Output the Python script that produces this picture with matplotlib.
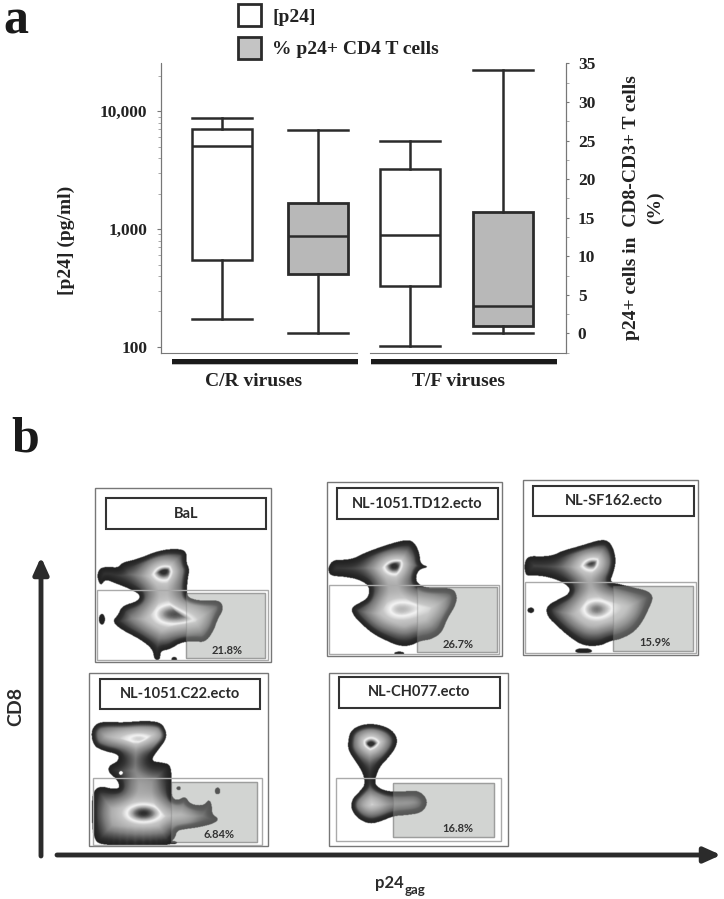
import numpy as np
import matplotlib
matplotlib.use('Agg')
import matplotlib.pyplot as plt
from matplotlib.colors import LinearSegmentedColormap
from matplotlib.patches import Rectangle
from matplotlib.path import Path
from matplotlib.ticker import FixedLocator, NullFormatter

W, H = 724, 899

# panel a data
p24_boxes = [
    {'whislo': 173, 'q1': 549, 'med': 5040, 'q3': 7030, 'whishi': 8790, 'fliers': []},
    {'whislo': 101, 'q1': 326, 'med': 891, 'q3': 3260, 'whishi': 5600, 'fliers': []},
]
pct_boxes = [
    {'whislo': 0, 'q1': 7.65, 'med': 12.6, 'q3': 16.9, 'whishi': 26.4, 'fliers': []},
    {'whislo': 0, 'q1': 1.0, 'med': 3.5, 'q3': 15.7, 'whishi': 34.1, 'fliers': []},
]
left_ticks = [100, 1000, 10000]
left_labels = ['100', '1,000', '10,000']
right_ticks = [0, 5, 10, 15, 20, 25, 30, 35]
groups = ['C/R viruses', 'T/F viruses']

# panel b: outlines traced on 3x crops, peaks are (x, y, sx, sy, height), dots are (x, y, rx, ry)
bal_outline = [(52, 310), (62, 295), (85, 293), (115, 295), (125, 280), (170, 270), (240, 242), (300, 238),
               (320, 250), (318, 280), (328, 300), (322, 330), (320, 362), (322, 385), (360, 395), (420, 392),
               (430, 420), (412, 450), (400, 485), (375, 520), (340, 515), (300, 520), (270, 540), (240, 545),
               (240, 572), (222, 572), (218, 540), (180, 510), (130, 485), (95, 458), (115, 435), (125, 410),
               (175, 395), (180, 375), (140, 355), (100, 340), (75, 330), (62, 350), (52, 330)]
bal_peaks = [(250, 305, 44, 34, .58), (265, 435, 68, 46, .53), (350, 435, 40, 40, .2)]
bal_dots = [(65, 450, 9, 16), (282, 570, 8, 7)]

td12_outline = [(25, 290), (40, 272), (70, 272), (100, 268), (135, 250), (190, 230), (250, 212), (280, 215),
                (298, 250), (300, 285), (328, 293), (295, 300), (285, 330), (300, 350), (335, 358), (395, 355),
                (412, 380), (405, 410), (380, 450), (365, 490), (335, 510), (300, 515), (270, 530), (235, 530),
                (200, 515), (160, 495), (130, 470), (100, 440), (92, 415), (120, 400), (145, 385), (148, 350),
                (115, 330), (70, 322), (35, 320), (25, 310)]
td12_peaks = [(222, 290, 42, 32, .58), (240, 420, 70, 44, .5), (340, 410, 38, 32, .2)]
td12_dots = [(237, 553, 15, 6)]

sf162_outline = [(612, 280), (625, 260), (665, 262), (700, 258), (725, 245), (780, 230), (850, 208), (875, 225),
                 (888, 270), (880, 310), (868, 338), (900, 345), (940, 355), (985, 365), (1000, 385), (985, 420),
                 (965, 460), (940, 490), (900, 510), (870, 515), (840, 530), (790, 530), (750, 505), (710, 470),
                 (680, 440), (678, 410), (715, 390), (745, 375), (750, 355), (720, 335), (680, 322), (640, 318),
                 (615, 320)]
sf162_peaks = [(812, 280, 42, 32, .57), (828, 420, 62, 44, .54), (920, 410, 32, 28, .15)]
sf162_dots = [(632, 423, 10, 8), (790, 545, 25, 8)]

c22_outline = [(32, 205), (45, 180), (70, 172), (130, 175), (180, 170), (240, 172), (258, 200), (258, 225),
               (235, 255), (210, 290), (245, 295), (270, 300), (275, 340), (272, 395), (290, 410), (315, 395),
               (330, 420), (370, 425), (385, 405), (395, 420), (395, 450), (418, 465), (395, 480), (350, 490),
               (310, 495), (290, 500), (285, 520), (275, 530), (270, 545), (60, 545), (40, 520), (35, 470),
               (35, 410), (40, 380), (60, 365), (100, 375), (120, 370), (110, 345), (85, 325), (85, 305),
               (115, 290), (115, 270), (70, 260), (40, 245)]
c22_peaks = [(170, 213, 90, 28, .58), (190, 447, 72, 38, .58), (315, 460, 30, 24, .2), (170, 360, 45, 22, .12)]
c22_dots = [(295, 372, 6, 6), (412, 380, 8, 10), (275, 535, 15, 5)]
c22_holes = [(122, 326, 6, 6)]

ch077_outline = [(803, 235), (810, 200), (840, 182), (880, 178), (925, 190), (950, 215), (950, 245), (925, 280),
                 (900, 305), (885, 340), (885, 365), (920, 382), (970, 382), (1010, 378), (1035, 395), (1042, 420),
                 (1025, 445), (985, 452), (940, 455), (905, 470), (870, 480), (835, 465), (812, 435), (815, 405),
                 (840, 380), (855, 360), (848, 325), (825, 290), (805, 260)]
ch077_peaks = [(873, 232, 38, 32, .62), (875, 415, 44, 30, .45), (985, 415, 32, 22, .16)]

names = ['BaL', 'NL-1051.TD12.ecto', 'NL-SF162.ecto', 'NL-1051.C22.ecto', 'NL-CH077.ecto']
percents = ['21.8%', '26.7%', '15.9%', '6.84%', '16.8%']
outlines = [bal_outline, td12_outline, sf162_outline, c22_outline, ch077_outline]
peaks = [bal_peaks, td12_peaks, sf162_peaks, c22_peaks, ch077_peaks]
dots = [bal_dots, td12_dots, sf162_dots, c22_dots, []]
holes = [[], [], [], c22_holes, []]
crop_origin = [(80, 470), (320, 470), (320, 470), (80, 665), (80, 665)]

# layout in page pixels, left/right/top/bottom
frames = [(95, 271, 488, 662), (327, 502, 482, 656), (523, 698, 480, 655),
          (89, 268, 673, 846), (329, 508, 673, 846)]
title_boxes = [(106, 266, 498, 529), (337, 498, 488, 519), (533, 694, 486, 516),
               (100, 260, 679, 709), (339, 500, 677, 708)]
gates = [(97, 268, 590, 660), (329, 499, 585, 654), (525, 696, 582, 653),
         (93, 262, 778, 845), (336, 501, 778, 841)]
grays = [(186, 265, 593, 658), (417, 497, 587, 652), (613, 693, 586, 651),
         (171, 257, 782, 842), (393, 494, 783, 837)]
pct_pos = [(227, 650), (458, 644), (655, 642), (219, 834), (458, 829)]

SERIF = 'Liberation Serif'
SANS = 'Lato'
DARK = '#2b2b2b'
TXT = '#222222'
FS = 14

fig = plt.figure(figsize=(W / 100, H / 100), dpi=100)

# whole page axes in pixels, everything that isn't the boxplot goes here
page = fig.add_axes([0, 0, 1, 1])
page.set_xlim(0, W)
page.set_ylim(H, 0)
page.axis('off')

# boxplot axes
L, R, T, B = 161, 566, 63.5, 352.7
ax = fig.add_axes([L / W, 1 - B / H, (R - L) / W, (B - T) / H], facecolor='none')
ax.set_xlim(L, R)
ax.set_yscale('log')
ax.set_ylim(89.4, 25400)
ax2 = ax.twinx()
ax2.set_ylim(-2.5, 34.9)
ax2.set_facecolor('none')

box_style = dict(
    patch_artist=True, widths=60, capwidths=60, showfliers=False, manage_ticks=False,
    medianprops=dict(color=DARK, lw=1.8), whiskerprops=dict(color=DARK, lw=1.8),
    capprops=dict(color=DARK, lw=1.8),
)
ax.bxp(p24_boxes, positions=[222, 410], boxprops=dict(facecolor='white', edgecolor=DARK, lw=1.8), **box_style)
ax2.bxp(pct_boxes, positions=[318, 503], boxprops=dict(facecolor='#b8b8b8', edgecolor=DARK, lw=2), **box_style)

for a in (ax, ax2):
    a.spines['top'].set_visible(False)
    a.spines['bottom'].set_visible(False)
    a.spines['left'].set_color('#777777')
    a.spines['right'].set_color('#777777')
    a.spines['left'].set_linewidth(0.8)
    a.spines['right'].set_linewidth(0.8)
ax.set_xticks([])
ax.yaxis.set_major_locator(FixedLocator(left_ticks))
ax.set_yticklabels(left_labels, fontfamily=SERIF, fontweight='bold', fontsize=12.5, color=TXT)
ax.yaxis.set_minor_locator(FixedLocator([m * 10 ** e for e in (2, 3, 4) for m in range(2, 10)]))
ax.yaxis.set_minor_formatter(NullFormatter())
ax.tick_params(axis='y', which='major', length=3, color='#777777', pad=7)
ax.tick_params(axis='y', which='minor', length=2, color='#999999')

ax2.set_yticks(right_ticks)
ax2.set_yticklabels(right_ticks, fontfamily=SERIF, fontweight='bold', fontsize=12.5, color=TXT)
ax2.set_yticks(np.arange(-2.5, 35, 2.5), minor=True)
ax2.tick_params(axis='y', which='major', length=2.5, color='#777777', pad=6)
ax2.tick_params(axis='y', which='minor', length=2, color='#999999')

# broken baseline and the thick group bars
page.plot([161, 357], [353, 353], color='#777777', lw=0.8)
page.plot([370, 566], [353, 353], color='#777777', lw=0.8)
for (x0, x1), name, xc in zip([(172, 358), (371, 557)], groups, [254, 459]):
    page.add_patch(Rectangle((x0, 363), x1 - x0, 2, color='#bbbbbb', lw=0))
    page.add_patch(Rectangle((x0, 359), x1 - x0, 4.5, color='#1a1a1a', lw=0))
    page.text(xc, 382, name, ha='center', va='center', family=SERIF, weight='bold', fontsize=FS, color=TXT)

page.text(66, 240, '[p24] (pg/ml)', rotation=90, ha='center', va='center', family=SERIF, weight='bold', fontsize=FS, color=TXT)
page.text(631, 208, 'p24+ cells in  CD8-CD3+ T cells', rotation=90, ha='center', va='center', family=SERIF, weight='bold', fontsize=FS, color=TXT)
page.text(655, 208, '(%)', rotation=90, ha='center', va='center', family=SERIF, weight='bold', fontsize=FS, color=TXT)

# legend
page.add_patch(Rectangle((238, 4), 23, 22, facecolor='white', edgecolor=DARK, lw=2))
page.add_patch(Rectangle((238, 37), 23, 22, facecolor='#c4c4c4', edgecolor=DARK, lw=2))
page.text(272, 17, '[p24]', va='center', family=SERIF, weight='bold', fontsize=FS, color=TXT)
page.text(272, 50, '% p24+ CD4 T cells', va='center', family=SERIF, weight='bold', fontsize=FS, color=TXT)

page.text(3, 22, 'a', va='center', family=SERIF, weight='bold', fontsize=36, color='#1a1a1a')
page.text(11, 439, 'b', va='center', family=SERIF, weight='bold', fontsize=36, color='#1a1a1a')

# density shading: dark rim, grey body, light ring, dark core
flow_cmap = LinearSegmentedColormap.from_list('flow', [
    (0.0, '#222222'), (0.15, '#333333'), (0.4, '#7c7c7c'), (0.62, '#a8a8a8'),
    (0.8, '#c6c6c6'), (0.88, '#f4f4f4'), (0.94, '#a8a8a8'), (1.0, '#2e2e2e')])


def smooth(pts, rounds=3):
    # corner cutting so the traced outlines don't look like polygons
    pts = np.array(pts, dtype=float)
    for _ in range(rounds):
        nxt = np.roll(pts, -1, axis=0)
        pts = np.column_stack([0.75 * pts + 0.25 * nxt, 0.25 * pts + 0.75 * nxt]).reshape(-1, 2)
    return pts


def draw_flow(i):
    x0, x1, y0, y1 = frames[i]
    ox, oy = crop_origin[i]
    outline = smooth(outlines[i]) / 3 + [ox, oy]
    xs = np.arange(x0 + 1, x1, 0.5)
    ys = np.arange(y0 + 1, y1, 0.5)
    gx, gy = np.meshgrid(xs, ys)
    inside = Path(outline).contains_points(np.column_stack([gx.ravel(), gy.ravel()])).reshape(gx.shape)
    dist = np.zeros_like(gx)
    for r in range(len(ys)):
        dist[r] = np.hypot(gx[r][:, None] - outline[:, 0], gy[r][:, None] - outline[:, 1]).min(axis=1)
    val = 0.42 * np.clip(dist / 20, 0, 1)
    for cx, cy, sx, sy, h in peaks[i]:
        val += h * np.exp(-0.5 * (((gx - (ox + cx / 3)) / (sx / 3)) ** 2 + ((gy - (oy + cy / 3)) / (sy / 3)) ** 2))
    # peaks must not lighten the very edge of the blob
    val *= np.clip(dist / 6, 0.15, 1)
    for cx, cy, rx, ry in dots[i]:
        dot = ((gx - (ox + cx / 3)) / (rx / 3)) ** 2 + ((gy - (oy + cy / 3)) / (ry / 3)) ** 2 < 1
        inside |= dot
        val[dot] = 0
    for cx, cy, rx, ry in holes[i]:
        inside &= ((gx - (ox + cx / 3)) / (rx / 3)) ** 2 + ((gy - (oy + cy / 3)) / (ry / 3)) ** 2 >= 1
    field = np.ma.array(np.clip(val, 0, 1), mask=~inside)
    page.imshow(field, cmap=flow_cmap, vmin=0, vmax=1, extent=(xs[0], xs[-1], ys[-1], ys[0]),
                interpolation='bilinear', aspect='auto', zorder=3)


for i in range(5):
    x0, x1, y0, y1 = frames[i]
    page.add_patch(Rectangle((x0, y0), x1 - x0, y1 - y0, facecolor='white', edgecolor='#777777', lw=1, zorder=1))
    gx0, gx1, gy0, gy1 = grays[i]
    page.add_patch(Rectangle((gx0, gy0), gx1 - gx0, gy1 - gy0, facecolor='#d6d8d6', edgecolor='#aaaaaa', lw=1, zorder=2))
    draw_flow(i)
    # the gate sits over the plot and dulls it
    page.add_patch(Rectangle((gx0, gy0), gx1 - gx0, gy1 - gy0, facecolor='#c9cbc9', edgecolor='#777777', alpha=0.3, lw=1, zorder=4))
    hx0, hx1, hy0, hy1 = gates[i]
    page.add_patch(Rectangle((hx0, hy0), hx1 - hx0, hy1 - hy0, fill=False, edgecolor='#aaaaaa', lw=1, zorder=4))
    tx0, tx1, ty0, ty1 = title_boxes[i]
    page.add_patch(Rectangle((tx0, ty0), tx1 - tx0, ty1 - ty0, facecolor='white', edgecolor='#333333', lw=1.5, zorder=5))
    page.text((tx0 + tx1) / 2, (ty0 + ty1) / 2, names[i], ha='center', va='center', family=SANS, weight='bold', fontsize=10.5, color='#2b2b2b', zorder=6)
    page.text(pct_pos[i][0], pct_pos[i][1], percents[i], ha='center', va='center', family=SANS, weight='bold', fontsize=8, color='#333333', zorder=6)

# axes arrows
page.annotate('', xy=(41, 557), xytext=(41, 856), arrowprops=dict(arrowstyle='-|>,head_width=0.45,head_length=1.0', color=DARK, lw=3.5, shrinkA=0, shrinkB=0))
page.annotate('', xy=(721, 855), xytext=(57, 855), arrowprops=dict(arrowstyle='-|>,head_width=0.45,head_length=1.0', color=DARK, lw=3.5, shrinkA=0, shrinkB=0))
page.text(16, 706, 'CD8', rotation=90, ha='center', va='center', family=SANS, weight='bold', fontsize=14, color='#2b2b2b')
page.text(375, 883, 'p24', va='center', family=SANS, weight='bold', fontsize=12, color='#2b2b2b')
page.text(405, 890, 'gag', va='center', family=SANS, weight='bold', fontsize=9.5, color='#2b2b2b')

page.set_xlim(0, W)
page.set_ylim(H, 0)
fig.savefig('out.png', dpi=100)
